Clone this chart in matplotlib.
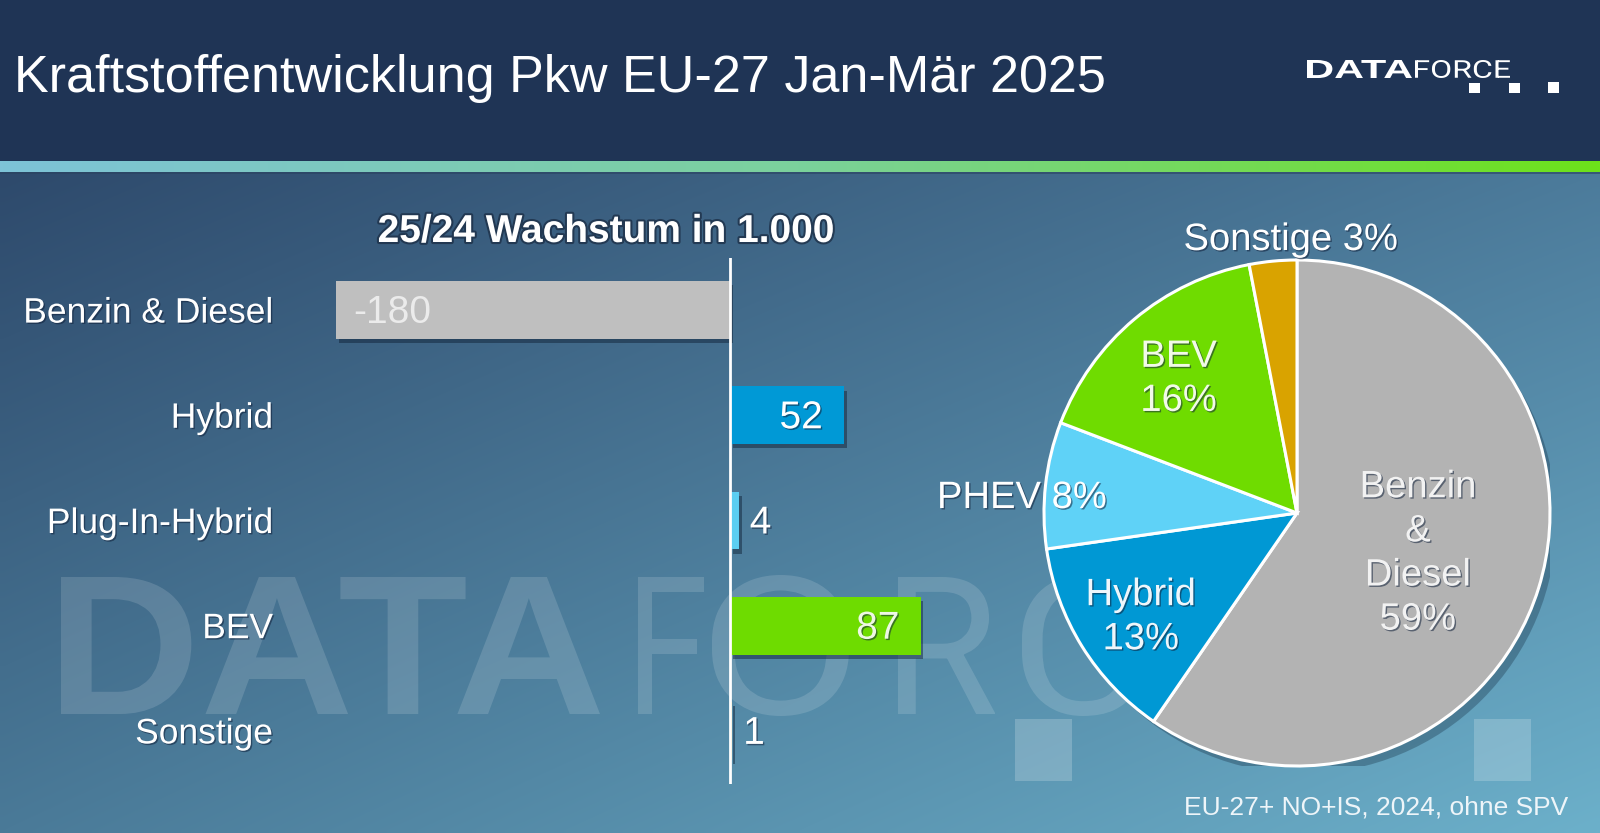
import numpy as np
import matplotlib
matplotlib.use("Agg")
import matplotlib.pyplot as plt
import matplotlib.patheffects as pe
import matplotlib.transforms as mtransforms
from matplotlib.textpath import TextPath
from matplotlib.patches import PathPatch, Rectangle, Circle
from matplotlib.font_manager import FontProperties

# ---------------- data ----------------
title = "Kraftstoffentwicklung Pkw EU-27 Jan-Mär 2025"
bar_title = "25/24 Wachstum in 1.000"
categories = ["Benzin & Diesel", "Hybrid", "Plug-In-Hybrid", "BEV", "Sonstige"]
growth = [-180, 52, 4, 87, 1]
bar_colors = ["#bfbfbf", "#0099d6", "#5bcef2", "#6edc00", "#d9a300"]
value_colors = ["#ebebeb", "#ffffff", "#ffffff", "#eef8e4", "#ffffff"]

pie_names = ["Benzin\n&\nDiesel", "Hybrid", "PHEV", "BEV", "Sonstige"]
pie_shares = [59, 13, 8, 16, 3]
pie_seps = ["\n", "\n", " ", "\n", " "]
pie_colors = ["#b3b3b3", "#0098d4", "#5fd2f7", "#6fdc00", "#d9a300"]
pie_text_colors = ["#f2f2f2", "#eef6fb", "#ffffff", "#f2fae8", "#ffffff"]
footer = "EU-27+ NO+IS, 2024, ohne SPV"

W, H = 1600, 833
FONT = ["Liberation Sans", "DejaVu Sans"]
plt.rcParams["font.family"] = FONT

fig = plt.figure(figsize=(W / 100, H / 100), dpi=100)

# ---------------- background ----------------
bg = fig.add_axes([0, 0, 1, 1])
bg.set_xlim(0, W)
bg.set_ylim(H, 0)
bg.axis("off")

def hex2rgb(h):
    h = h.lstrip("#")
    return np.array([int(h[i:i + 2], 16) / 255 for i in (0, 2, 4)])

TL, TR = hex2rgb("#2e4a6c"), hex2rgb("#4c7b9b")
BL, BR = hex2rgb("#4a7a98"), hex2rgb("#6cb0ca")
ny, nx = 120, 200
v = np.linspace(0, 1, ny)[:, None, None]
u = np.linspace(0, 1, nx)[None, :, None]
grad = TL * (1 - u) * (1 - v) + TR * u * (1 - v) + BL * (1 - u) * v + BR * u * v
bg.imshow(grad, extent=(0, W, H, 172), aspect="auto", interpolation="bilinear", zorder=0)

# header
bg.add_patch(Rectangle((0, 0), W, 161, color="#1f3455", zorder=1, lw=0))
# stripe
s1, s2, s3 = hex2rgb("#7ec3d8"), hex2rgb("#7bd19c"), hex2rgb("#6de21a")
t = np.linspace(0, 1, 300)[:, None]
stripe = np.where(t < 0.5, s1 * (1 - 2 * t) + s2 * (2 * t), s2 * (2 - 2 * t) + s3 * (2 * t - 1))
bg.imshow(stripe[None, :, :], extent=(0, W, 172, 161), aspect="auto", interpolation="bilinear", zorder=2)
bg.add_patch(Rectangle((0, 172), W, 2, color="#2a4260", zorder=2, lw=0, alpha=0.6))


def fit_text(ax, s, x0, x1, ytop, ybot, prop, **kw):
    tp = TextPath((0, 0), s, size=100, prop=prop)
    ext = tp.get_extents()
    sx = (x1 - x0) / ext.width
    sy = (ybot - ytop) / ext.height
    tr = mtransforms.Affine2D().translate(-ext.x0, -ext.y0).scale(sx, -sy).translate(x0, ybot)
    ax.add_patch(PathPatch(tr.transform_path(tp), lw=0, **kw))

bold = FontProperties(family="Liberation Sans", weight="bold")
light = FontProperties(family="Roboto", weight="light")
regular = FontProperties(family="Roboto", weight="normal")

# watermark
wm = dict(color="white", alpha=0.14, zorder=3)
fit_text(bg, "DATA", 61, 600, 577, 714, bold, **wm)
fit_text(bg, "F", 638, 704, 577, 714, regular, **wm)
fit_text(bg, "O", 712, 849, 575, 716, regular, **wm)
fit_text(bg, "R", 898, 995, 577, 714, regular, **wm)
fit_text(bg, "C", 1022, 1142, 575, 716, regular, **wm)
fit_text(bg, "E", 1170, 1250, 577, 714, regular, **wm)
for x0 in (1015, 1474):
    bg.add_patch(Rectangle((x0, 719), 57, 62, color="white", alpha=0.2, lw=0, zorder=3))

# logo
fit_text(bg, "DATA", 1307, 1412, 60, 78, bold, color="white", zorder=4)
fit_text(bg, "FORCE", 1415, 1510, 60, 78, regular, color="white", zorder=4)
for (x0, y0, w, h) in [(1469, 83, 11, 10), (1509, 83, 11, 10), (1548, 82, 11, 11)]:
    bg.add_patch(Rectangle((x0, y0), w, h, color="white", lw=0, zorder=4))

# title
bg.text(14, 78, title, fontsize=37.5, color="white", ha="left", va="center", zorder=5)

# footer
bg.text(1568, 808, footer, fontsize=19, color="#eef5f9", ha="right", va="center", zorder=5)

txt_shadow = [pe.withSimplePatchShadow(offset=(1, -1), shadow_rgbFace="#10203a", alpha=0.55)]

# ---------------- bar chart ----------------
zero_px, px_per_unit = 730, 2.19
xmin, xmax = -200, 110
left_px = zero_px + xmin * px_per_unit
width_px = (xmax - xmin) * px_per_unit
top_px, bottom_px = 257.5, 783.5
axb = fig.add_axes([left_px / W, 1 - bottom_px / H, width_px / W, (bottom_px - top_px) / H])
axb.set_xlim(xmin, xmax)
axb.set_ylim(len(categories) - 0.5, -0.5)
axb.axis("off")
axb.patch.set_alpha(0)

ypos = np.arange(len(categories))
bars = axb.barh(ypos, growth, height=0.55, color=bar_colors, zorder=2)
for b in bars:
    b.set_path_effects([pe.withSimplePatchShadow(offset=(2, -3), shadow_rgbFace="#0c1c30", alpha=0.45)])
axb.axvline(0, color="white", lw=2, zorder=3)

dy = -3  # pixels
for y, val, tc in zip(ypos, growth, value_colors):
    if val < -30:
        axb.annotate(f"{val}", (val, y), xytext=(17, dy), textcoords="offset pixels",
                     ha="left", va="center", fontsize=28, color=tc, zorder=4)
    elif val > 30:
        axb.annotate(f"{val}", (val, y), xytext=(-21, dy), textcoords="offset pixels",
                     ha="right", va="center", fontsize=28, color=tc, zorder=4,
                     path_effects=txt_shadow)
    else:
        axb.annotate(f"{val}", (max(val, 0), y), xytext=(11, dy), textcoords="offset pixels",
                     ha="left", va="center", fontsize=28, color=tc, zorder=4,
                     path_effects=txt_shadow)

# category labels
for y, name in zip(ypos, categories):
    axb.annotate(name, (0, y), xycoords=("figure pixels", "data"), xytext=(273, dy),
                 textcoords=("figure pixels", "offset pixels"), ha="right", va="center",
                 fontsize=25.5, color="white", path_effects=txt_shadow)

bg.text(606, 232, bar_title, fontsize=28, fontweight="bold", color="white", ha="center",
        va="center", zorder=5,
        path_effects=[pe.withStroke(linewidth=3, foreground="#1d3048", alpha=0.8)])

# ---------------- pie ----------------
cx, cy, r = 1297, 513, 253
axp = fig.add_axes([(cx - r) / W, 1 - (cy + r) / H, 2 * r / W, 2 * r / H])
axp.patch.set_alpha(0)
axp.add_patch(Circle((0.025, -0.03), 1.0, color="#0e2236", alpha=0.3, lw=0, zorder=0))
wedges, _ = axp.pie(pie_shares, colors=pie_colors, startangle=90, counterclock=False,
                    wedgeprops=dict(edgecolor="white", linewidth=2.2))
axp.set_xlim(-1, 1)
axp.set_ylim(-1, 1)
axp.axis("off")

label_pos = [(0.478, -0.160, "center"), (-0.617, -0.412, "center"), (-1.423, 0.059, "left"),
             (-0.468, 0.530, "center"), (-0.024, 1.079, "center")]
for name, share, sep, tc, (lx, ly, ha) in zip(pie_names, pie_shares, pie_seps, pie_text_colors, label_pos):
    axp.text(lx, ly, f"{name}{sep}{share}%", ha=ha, va="center", multialignment="center",
             fontsize=27.5, color=tc, linespacing=1.29, clip_on=False, zorder=5,
             path_effects=txt_shadow)

fig.savefig("out.png", dpi=100)
